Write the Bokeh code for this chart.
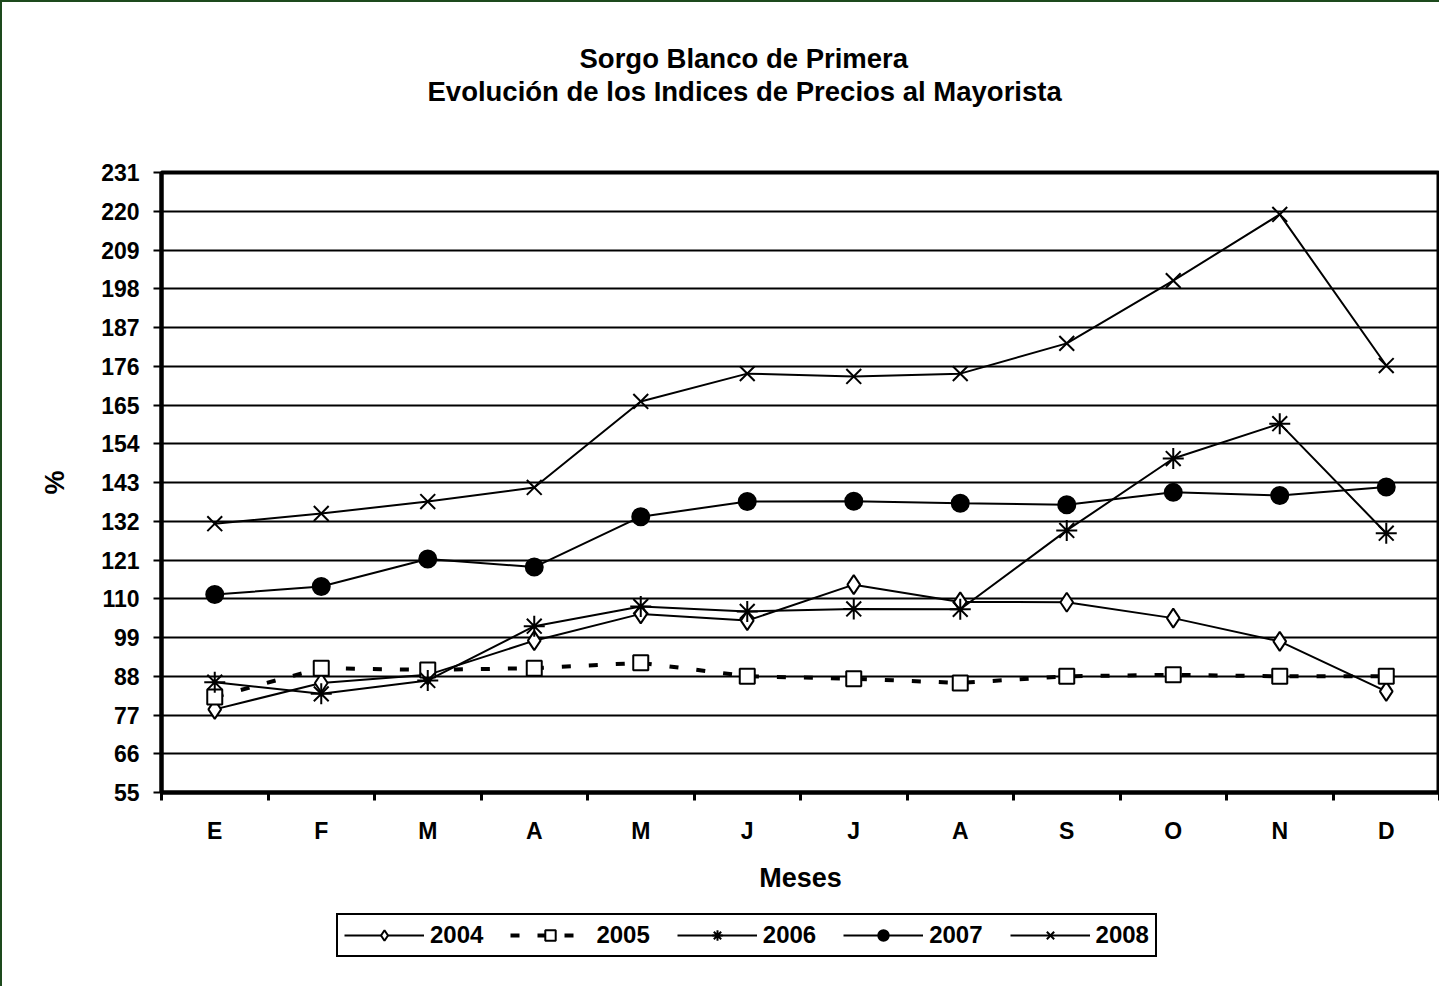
from bokeh.plotting import figure
from bokeh.layouts import column
from bokeh.models import FixedTicker, Legend, LegendItem, Range1d, Title
from bokeh.embed import file_html
from bokeh.resources import INLINE

# ---- data ----
months = ["E", "F", "M", "A", "M", "J", "J", "A", "S", "O", "N", "D"]
y2004 = [78.6, 86.1, 88.4, 98.1, 105.7, 103.8, 114.0, 109.1, 109.0, 104.5, 97.9, 83.7]
y2005 = [82.1, 90.3, 89.8, 90.3, 91.8, 88.0, 87.3, 86.1, 88.0, 88.4, 88.0, 88.0]
y2006 = [86.3, 83.0, 86.8, 102.2, 107.8, 106.4, 107.1, 107.0, 129.4, 149.8, 159.7, 128.6]
y2007 = [111.2, 113.5, 121.3, 119.0, 133.3, 137.6, 137.7, 137.1, 136.7, 140.2, 139.3, 141.7]
y2008 = [131.3, 134.2, 137.6, 141.6, 166.0, 173.9, 173.1, 173.9, 182.5, 200.3, 219.1, 176.2]
y_ticks = [55, 66, 77, 88, 99, 110, 121, 132, 143, 154, 165, 176, 187, 198, 209, 220, 231]
series_names = ["2004", "2005", "2006", "2007", "2008"]
title_lines = ["Sorgo Blanco de Primera", "Evolución de los Indices de Precios al Mayorista"]

x_idx = list(range(len(months)))
bounds = [i - 0.5 for i in range(len(months) + 1)]

FONT = "Liberation Sans"

# series styles (marker, size, fill, line width, dash)
styles = [
    dict(marker="diamond", size=19, fill="white", lw=2, dash="solid"),
    dict(marker="square", size=15, fill="white", lw=4, dash="9 18"),
    dict(marker="asterisk", size=21, fill="black", lw=2, dash="solid"),
    dict(marker="circle", size=17, fill="black", lw=2, dash="solid"),
    dict(marker="x", size=21, fill="black", lw=2, dash="solid"),
]
series = [y2004, y2005, y2006, y2007, y2008]

p = figure(frame_width=1278, frame_height=620,
           x_range=Range1d(-0.5, len(months) - 0.5),
           y_range=Range1d(y_ticks[0], y_ticks[-1]),
           output_backend="svg", toolbar_location=None,
           min_border_left=159, min_border_right=0,
           min_border_top=170, min_border_bottom=118)
p.background_fill_color = "white"
p.border_fill_color = "white"
p.outline_line_color = "black"
p.outline_line_width = 4

# y axis
p.yaxis.ticker = FixedTicker(ticks=y_ticks, minor_ticks=[])
p.yaxis.major_tick_out = 8
p.yaxis.major_tick_in = 0
p.yaxis.major_tick_line_width = 2
p.yaxis.axis_line_width = 4
p.yaxis.major_label_text_font = FONT
p.yaxis.major_label_text_font_style = "bold"
p.yaxis.major_label_text_font_size = "23px"
p.yaxis.major_label_text_color = "black"
p.yaxis.major_label_standoff = 14
p.yaxis.axis_label = "%"
p.yaxis.axis_label_text_font = FONT
p.yaxis.axis_label_text_font_style = "bold"
p.yaxis.axis_label_text_font_size = "27px"
p.yaxis.axis_label_text_color = "black"
p.yaxis.axis_label_standoff = 28

p.ygrid.ticker = FixedTicker(ticks=y_ticks, minor_ticks=[])
p.ygrid.grid_line_color = "black"
p.ygrid.grid_line_width = 2
p.xgrid.visible = False

# x axis
p.xaxis.ticker = FixedTicker(ticks=x_idx, minor_ticks=bounds)
p.xaxis.major_label_overrides = {i: m for i, m in zip(x_idx, months)}
p.xaxis.major_tick_out = 0
p.xaxis.major_tick_in = 0
p.xaxis.minor_tick_out = 8
p.xaxis.minor_tick_in = 0
p.xaxis.minor_tick_line_width = 3
p.xaxis.minor_tick_line_color = "black"
p.xaxis.axis_line_width = 4
p.xaxis.major_label_text_font = FONT
p.xaxis.major_label_text_font_style = "bold"
p.xaxis.major_label_text_font_size = "23px"
p.xaxis.major_label_text_color = "black"
p.xaxis.major_label_standoff = 17
p.xaxis.axis_label = "Meses"
p.xaxis.axis_label_text_font = FONT
p.xaxis.axis_label_text_font_style = "bold"
p.xaxis.axis_label_text_font_size = "27px"
p.xaxis.axis_label_text_color = "black"
p.xaxis.axis_label_standoff = 16

for ys, st in zip(series, styles):
    p.line(x_idx, ys, line_color="black", line_width=st["lw"], line_dash=st["dash"])
    p.scatter(x_idx, ys, marker=st["marker"], size=st["size"], fill_color=st["fill"],
              line_color="black", line_width=2)

# title (stacked upward from the frame: spacer, line 2, line 1)
p.add_layout(Title(text=" ", text_font_size="10px", standoff=53), "above")
p.add_layout(Title(text=title_lines[1], align="left", offset=266, standoff=0,
                   text_font=FONT, text_font_style="bold", text_font_size="27.5px",
                   text_color="black"), "above")
p.add_layout(Title(text=title_lines[0], align="left", offset=418, standoff=0,
                   text_font=FONT, text_font_style="bold", text_font_size="27.5px",
                   text_color="black"), "above")

# legend strip below the chart: the series are drawn again only to feed the
# legend swatches; its y range lies below all values so nothing shows there.
lg = figure(width=1437, height=76, x_range=Range1d(-0.5, len(months) - 0.5),
            y_range=Range1d(0, 1),
            output_backend="svg", toolbar_location=None,
            x_axis_location=None, y_axis_location=None,
            min_border_left=159, min_border_right=0, min_border_top=0, min_border_bottom=0)
lg.outline_line_color = None
lg.xgrid.visible = False
lg.ygrid.visible = False
lg.background_fill_color = "white"
lg.border_fill_color = "white"
items = []
for name, ys, st in zip(series_names, series, styles):
    r = lg.line(x_idx, ys, line_color="black", line_width=st["lw"], line_dash=st["dash"])
    m = lg.scatter(x_idx, ys, marker=st["marker"], size=st["size"], fill_color=st["fill"],
                   line_color="black", line_width=2)
    items.append(LegendItem(label=name, renderers=[r, m], index=0))

legend = Legend(items=items, orientation="horizontal", location=(175, 29),
                glyph_width=80, glyph_height=26, label_standoff=6, spacing=27,
                padding=6, margin=0,
                label_text_font=FONT, label_text_font_style="bold",
                label_text_font_size="24px", label_text_color="black",
                border_line_color="black", border_line_width=2, border_line_alpha=1,
                background_fill_color="white", background_fill_alpha=1)
lg.add_layout(legend)

layout = column(p, lg, spacing=0)
layout.styles = {"border-left": "2px solid #1d4a1d", "border-top": "2px solid #1d4a1d"}

open("out.html", "w").write(file_html(layout, INLINE))
